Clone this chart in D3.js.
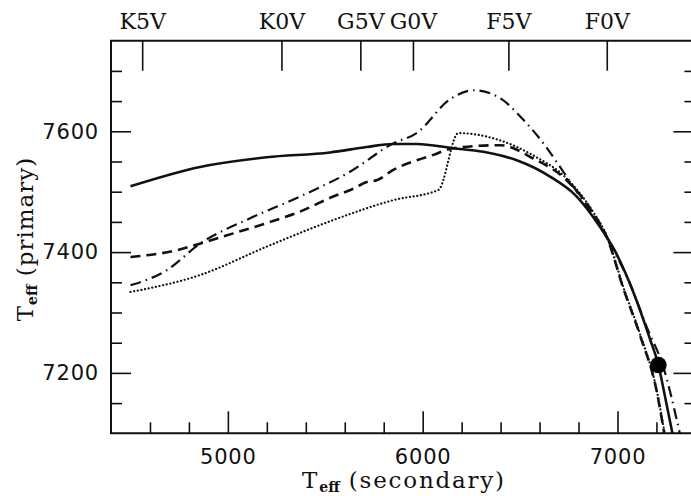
<!DOCTYPE html>
<html><head><meta charset="utf-8">
<script src="https://cdn.jsdelivr.net/npm/d3@7"></script>
<style>body{margin:0;background:#fff}</style>
</head><body>
<svg id="c" width="691" height="496"></svg>
<script>
// ---- data ----
const spectralTypes = ["K5V", "K0V", "G5V", "G0V", "F5V", "F0V"];
const spectralTeff  = [4560, 5275, 5680, 5950, 6440, 6945];

const xMajorTicks = [5000, 6000, 7000];
const xMinorTicks = [4600, 4800, 5200, 5400, 5600, 5800, 6200, 6400, 6600, 6800, 7200];
const yMajorTicks = [7200, 7400, 7600];
const yMinorTicks = [7150, 7250, 7300, 7350, 7450, 7500, 7550, 7650, 7700];

// solid curve: [T_eff secondary, T_eff primary]
const solidSeries = [
  [4500,7509],[4857,7541],[5199,7557],[5524,7565],[5713,7574],[5849,7579],
  [5969,7579],[6157,7572],[6311,7566],[6483,7552],[6654,7525],[6791,7492],
  [6910,7442],[6987,7402],[7081,7334],[7167,7256],[7210,7213],[7244,7161],[7282,7100]
];
const dashedSeries = [
  [4500,7392],[4737,7403],[4857,7414],[5028,7431],[5199,7448],[5370,7467],
  [5541,7492],[5644,7505],[5713,7516],[5764,7519],[5849,7536],[6055,7561],
  [6157,7572],[6397,7577],[6568,7555],[6739,7519],[6876,7464],[6945,7425],
  [7030,7340],[7116,7262],[7201,7170],[7240,7100]
];
const dottedSeries = [
  [4500,7334],[4857,7362],[5199,7409],[5541,7453],[5849,7486],[6081,7503],
  [6183,7597],[6397,7585],[6568,7560],[6739,7522],[6876,7466],[6945,7427],
  [7030,7342],[7116,7264],[7201,7172],[7242,7100]
];
const dashDotSeries = [
  [4500,7345],[4686,7370],[4857,7414],[5114,7456],[5370,7492],[5627,7533],
  [5849,7580],[5969,7597],[6140,7653],[6260,7668],[6397,7655],[6517,7619],
  [6620,7580],[6705,7541],[6808,7492],[6893,7453],[6950,7420],[7064,7348],
  [7150,7276],[7235,7210],[7320,7100]
];
const markerPoint = [7210, 7213];

// ---- layout ----
const svg = d3.select("#c");
svg.append("rect").attr("width",691).attr("height",496).attr("fill","#fff");
const L = 111, R = 695.4, T = 40.7, B = 433.3;
const x = d3.scaleLinear().domain([4400, 7400]).range([L, R]);
const y = d3.scaleLinear().domain([7100, 7750]).range([B, T]);

const numFont = "DejaVu Sans";
const serif = "DejaVu Serif";

function styleAxis(g){
  g.select(".domain").remove();
  g.selectAll(".tick line").attr("stroke","#111").attr("stroke-width",1.6);
  g.selectAll("text").attr("fill","#111");
}

// bottom axis
svg.append("g").attr("transform",`translate(0,${B})`)
  .call(d3.axisBottom(x).tickValues(xMajorTicks).tickSize(-22).tickPadding(15.5).tickFormat(d3.format("d")))
  .call(styleAxis)
  .attr("font-family", numFont).attr("font-size", 21)
  .selectAll("text").attr("letter-spacing", "0.8px");
svg.append("g").attr("transform",`translate(0,${B})`)
  .call(d3.axisBottom(x).tickValues(xMinorTicks).tickSize(-11).tickFormat(""))
  .call(styleAxis);

// left axis
svg.append("g").attr("transform",`translate(${L},0)`)
  .call(d3.axisLeft(y).tickValues(yMajorTicks).tickSize(-20).tickPadding(12).tickFormat(d3.format("d")))
  .call(styleAxis)
  .attr("font-family", numFont).attr("font-size", 21)
  .selectAll("text").attr("letter-spacing", "0.8px");
svg.append("g").attr("transform",`translate(${L},0)`)
  .call(d3.axisLeft(y).tickValues(yMinorTicks).tickSize(-11).tickFormat(""))
  .call(styleAxis);

// right axis
svg.append("g").attr("transform",`translate(${R},0)`)
  .call(d3.axisRight(y).tickValues(yMajorTicks).tickSize(-22).tickFormat(""))
  .call(styleAxis);
svg.append("g").attr("transform",`translate(${R},0)`)
  .call(d3.axisRight(y).tickValues(yMinorTicks).tickSize(-11).tickFormat(""))
  .call(styleAxis);

// top spectral-type axis
svg.append("g").attr("transform",`translate(0,${T})`)
  .call(d3.axisTop(x).tickValues(spectralTeff).tickSize(-30).tickPadding(12)
        .tickFormat((d,i) => spectralTypes[i]))
  .call(styleAxis)
  .attr("font-family", serif).attr("font-size", 22);

// frame
svg.append("path")
  .attr("d", `M${L},${T}H${R}V${B}H${L}Z`)
  .attr("fill","none").attr("stroke","#111").attr("stroke-width",2);

// clip
svg.append("clipPath").attr("id","clip").append("rect")
  .attr("x",L).attr("y",T).attr("width",R-L).attr("height",B-T);
const plot = svg.append("g").attr("clip-path","url(#clip)");

const line = d3.line().x(d => x(d[0])).y(d => y(d[1])).curve(d3.curveMonotoneX);

plot.append("path").datum(dottedSeries).attr("d", line)
  .attr("fill","none").attr("stroke","#111").attr("stroke-width",2.2)
  .attr("stroke-dasharray","0.1,3.6").attr("stroke-linecap","round");
plot.append("path").datum(dashDotSeries).attr("d", line)
  .attr("fill","none").attr("stroke","#111").attr("stroke-width",2.2)
  .attr("stroke-dasharray","11,5,1.5,5");
plot.append("path").datum(dashedSeries).attr("d", line)
  .attr("fill","none").attr("stroke","#111").attr("stroke-width",2.6)
  .attr("stroke-dasharray","10,6");
plot.append("path").datum(solidSeries).attr("d", line)
  .attr("fill","none").attr("stroke","#111").attr("stroke-width",2.6);

plot.append("circle").attr("cx", x(markerPoint[0])).attr("cy", y(markerPoint[1]))
  .attr("r", 8.3).attr("fill","#000");

// axis titles
const xt = svg.append("text").attr("x", 404).attr("y", 488)
  .attr("text-anchor","middle").attr("font-family", serif).attr("font-size", 23)
  .attr("letter-spacing","1.8px").attr("fill","#111");
xt.append("tspan").text("T");
xt.append("tspan").attr("font-size", 14).attr("font-weight","bold").attr("letter-spacing","0px").attr("dy", 4).text("eff");
xt.append("tspan").attr("dy", -4).text(" (secondary)");

const yt = svg.append("text").attr("transform","translate(33,239) rotate(-90)")
  .attr("text-anchor","middle").attr("font-family", serif).attr("font-size", 23)
  .attr("letter-spacing","1px").attr("fill","#111");
yt.append("tspan").text("T");
yt.append("tspan").attr("font-size", 14).attr("font-weight","bold").attr("letter-spacing","0px").attr("dy", 4).text("eff");
yt.append("tspan").attr("dy", -4).text(" (primary)");
</script>
</body></html>
